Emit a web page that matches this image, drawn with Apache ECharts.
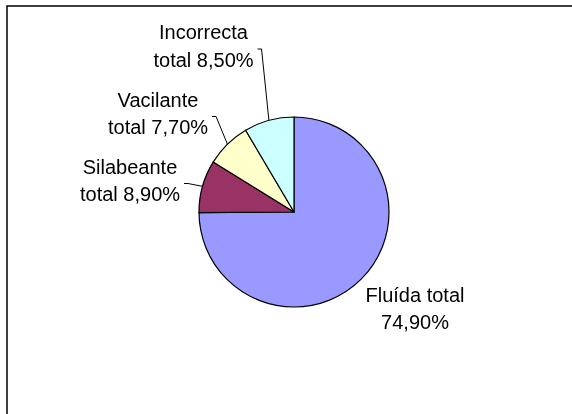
<!DOCTYPE html>
<html>
<head>
<meta charset="utf-8">
<script src="https://cdn.jsdelivr.net/npm/echarts@6/dist/echarts.min.js"></script>
<style>
html,body{margin:0;padding:0;background:#fff;}
#chart{width:572px;height:414px;}
</style>
</head>
<body>
<div id="chart"></div>
<script>
// Data
const categories = ['Fluída', 'Silabeante', 'Vacilante', 'Incorrecta'];
const values = [74.9, 8.9, 7.7, 8.5];
const colors = ['#9999FF', '#993366', '#FFFFCC', '#CCFFFF'];

// Label placement (layout only): centre of each label block
const labelPos = [
  { x: 415, y: 310, line: false },
  { x: 130, y: 182, line: true },
  { x: 158, y: 115, line: true },
  { x: 203.5, y: 47.5, line: true }
];

function pct(v) {
  return v.toFixed(2).replace('.', ',') + '%';
}

const chart = echarts.init(document.getElementById('chart'), null, { renderer: 'canvas' });

const data = categories.map((c, i) => ({
  name: c,
  value: values[i],
  itemStyle: { color: colors[i] },
  labelLine: { show: labelPos[i].line }
}));

chart.setOption({
  animation: false,
  backgroundColor: '#fff',
  graphic: [{
    type: 'rect',
    shape: { x: 7, y: 6, width: 620, height: 520 },
    style: { fill: 'none', stroke: '#000', lineWidth: 1.5 },
    z: 10
  }],
  series: [{
    type: 'pie',
    center: [294, 212],
    radius: 95,
    startAngle: 90,
    clockwise: true,
    avoidLabelOverlap: false,
    itemStyle: { borderColor: '#000', borderWidth: 1.2 },
    emphasis: { disabled: true },
    label: {
      show: true,
      position: 'outside',
      color: '#000',
      fontFamily: '"Liberation Sans", Arial, sans-serif',
      fontSize: 20,
      lineHeight: 27.5,
      align: 'center',
      formatter: function (p) {
        if (p.dataIndex === 0) return p.name + ' total\n' + pct(p.value);
        return p.name + '\ntotal ' + pct(p.value);
      }
    },
    labelLine: {
      show: true,
      length: 10,
      length2: 10,
      lineStyle: { color: '#000', width: 1 }
    },
    labelLayout: function (params) {
      const lp = labelPos[params.dataIndex];
      const w = params.labelRect.width;
      const right = lp.x + w / 2;
      const res = { x: lp.x, y: lp.y, align: 'center', verticalAlign: 'middle' };
      if (lp.line && params.labelLinePoints) {
        const edge = params.labelLinePoints[0];
        res.labelLinePoints = [edge, [right + 8, lp.y + 1.5], [right + 4, lp.y + 1.5]];
      }
      return res;
    },
    data: data
  }]
});
</script>
</body>
</html>
